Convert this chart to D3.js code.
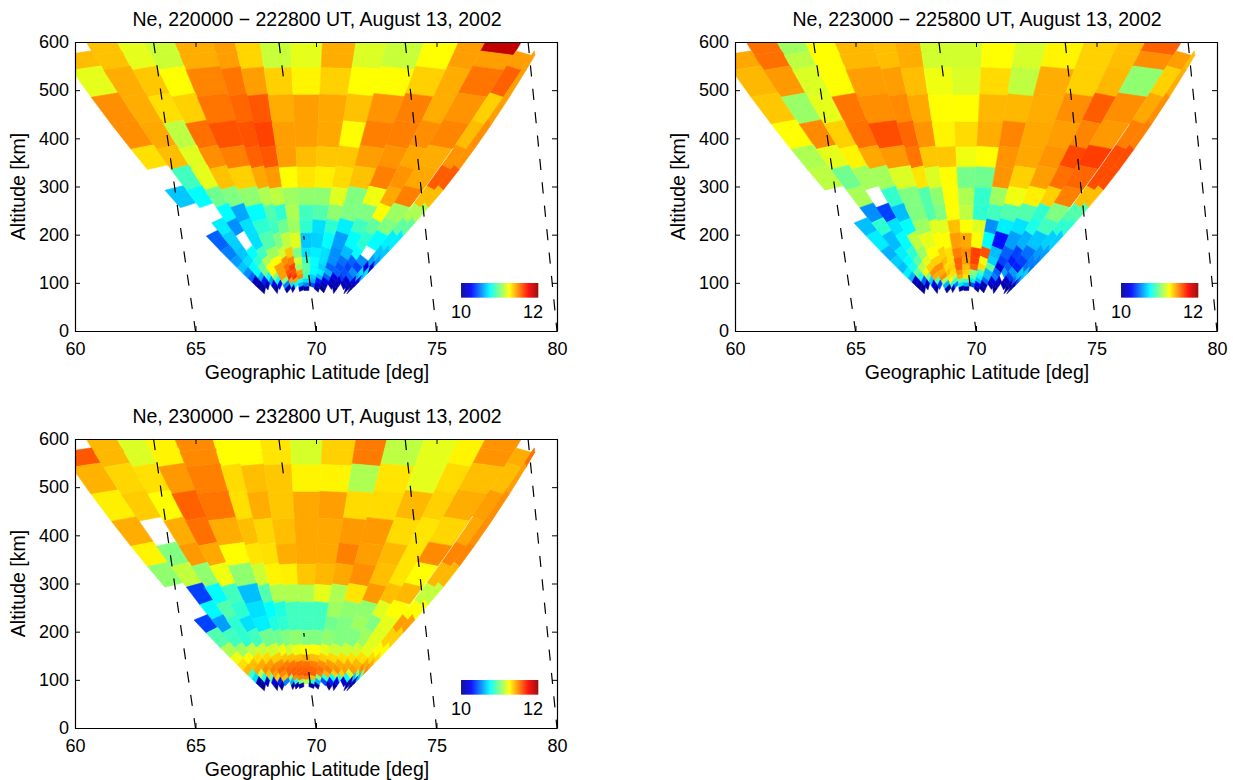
<!DOCTYPE html>
<html><head><meta charset="utf-8">
<script src="https://cdn.jsdelivr.net/npm/d3@7"></script>
<style>html,body{margin:0;padding:0;background:#fff}svg{display:block}text{font-family:"Liberation Sans",Arial,sans-serif;fill:#000}</style>
</head><body><div id="c"></div>
<script>
const _ = null;
const xTicks = [60,65,70,75,80];
const yTicks = [0,100,200,300,400,500,600];
const titles = ["Ne, 220000 \u2212 222800 UT, August 13, 2002","Ne, 223000 \u2212 225800 UT, August 13, 2002","Ne, 230000 \u2212 232800 UT, August 13, 2002"];
// altitude gate edges [km], top to bottom
const altEdges = [620,577,546,490,434,382,340,297,261,230,203,172,152,138,126,116,108,100,92,84];
// beam edge elevation [deg from southern horizon]
const beamEdges = [20.7,24.8,29.3,34.2,40.6,51.1,58.6,68.6,82.3,97.7,112.8,124.7,136,144,149,154.5,156.9,158.5];
const fieldLineBase = [65,70,75,80];
const fieldLineTop = [63.26,68.46,73.7,78.8];
const hairlineTop = [382,440,445];
// log10 Ne per gate (rows) and beam (columns)
const ne1 = [
[_,11.37,11.2,11.15,11.41,11.44,11.33,11.14,11.2,11.41,11.18,11.14,11.25,11.44,11.89,_,_],
[11.38,11.37,11.2,11.15,11.41,11.44,11.33,11.14,11.2,11.41,11.18,11.14,11.25,11.44,11.44,11.44,11.44],
[11.2,11.41,11.36,11.25,11.49,11.52,11.44,11.34,11.27,11.34,11.25,11.25,11.34,11.41,11.52,11.56,11.44],
[11.47,11.41,11.31,11.34,11.52,11.55,11.58,11.41,11.44,11.42,11.37,11.46,11.5,11.41,11.46,11.34,11.44],
[11.47,11.42,11.12,11.53,11.59,11.59,11.62,11.44,11.44,11.42,11.25,11.5,11.5,11.47,11.49,11.38,11.47],
[11.31,11.38,11.19,11.47,11.5,11.56,11.58,11.44,11.38,11.36,11.36,11.44,11.46,11.42,11.41,11.46,11.46],
[_,10.875,11.2,11.37,11.34,11.42,11.45,11.25,11.3,11.28,11.32,11.37,11.5,11.46,11.42,11.57,11.57],
[10.64,10.75,10.97,11,11.03,11.09,11.12,11.06,11.03,11.03,11.19,11,11.22,11.42,11.5,11.38,11.38],
[_,_,10.75,10.58,10.75,10.91,10.84,11.09,10.875,10.91,11.03,11,11,11.25,11.06,11.09,11.09],
[_,10.72,10.53,10.69,10.84,10.875,10.97,11.06,10.84,10.69,10.84,10.72,10.875,10.94,11,10.94,10.94],
[10.44,10.66,_,10.69,10.91,11,11.125,11.19,10.64,10.66,10.75,10.56,10.75,10.84,10.75,10.72,10.72],
[10.5,10.64,10.75,10.875,11.06,11.16,11.36,11,10.7,10.72,10.69,10.53,10.62,10.75,_,10.64,10.64],
[10.56,10.69,10.84,11.09,11.25,11.47,11.5,11.16,10.875,10.75,10.69,10.53,10.47,10.44,10.53,10.56,10.56],
[10.64,10.75,10.95,11.25,11.44,11.53,11.625,11.06,10.94,10.75,10.66,10.44,10.41,10.375,10.375,10.19,10.19],
[10.53,10.75,10.97,11.25,11.44,11.59,11.59,11.44,10.91,10.75,10.72,10.6,10.44,10.41,10.53,10.69,10.69],
[10.44,10.6,10.75,11,11.44,11.66,11.66,11.5,10.875,10.66,10.625,10.44,10.2,10.375,10.44,10.6,10.6],
[10.1,10.3,10.56,10.75,11,11.44,11.44,10.8,10.69,10.6,10.3,10.2,10.1,10.1,10.15,10.2,10.2],
[10.05,10.1,10.15,10.25,10.5,10.7,10.75,10.6,10.5,10.4,10.2,10.1,10.1,10.1,10.1,10.1,10.1],
[10.02,_,10.03,_,10.03,10.05,_,10.05,10.05,_,10.03,10.02,_,10.03,_,10.02,10.02]];
const ne2 = [
[_,11.53,11.06,11.25,11.39,11.375,11.41,11.16,11.16,11.25,11.17,11.27,11.34,11.375,11.56,_,_],
[11.42,11.53,11.12,11.25,11.39,11.375,11.41,11.16,11.16,11.25,11.17,11.27,11.34,11.375,11.47,11.44,11.38],
[11.39,11.45,11.18,11.25,11.44,11.44,11.375,11.22,11.18,11.32,11.125,11.41,11.34,11.39,11.03,11.34,11.41],
[11.36,11.05,11.2,11.52,11.47,11.48,11.42,11.25,11.25,11.39,11.39,11.41,11.47,11.57,11.47,11.42,11.47],
[11.25,11.48,11.34,11.53,11.6,11.55,11.46,11.27,11.32,11.41,11.49,11.42,11.44,11.49,11.45,11.5,11.5],
[11.09,11.2,11.27,11.42,11.45,11.52,11.36,11.36,11.22,11.25,11.46,11.42,11.46,11.61,11.63,11.6,11.6],
[11.12,10.97,11.07,11.07,11.18,11.3,11.18,11.25,10.98,10.97,11.46,11.34,11.44,11.53,11.55,11.6,11.6],
[_,11.08,_,10.85,11,10.91,11.03,11.25,11.09,10.85,11.06,11.22,11.28,11.34,11.5,11.375,11.375],
[_,10.53,10.375,10.625,11,10.91,11,11.25,11.125,10.84,10.875,10.91,10.91,10.84,11,10.91,10.91],
[10.625,10.84,10.69,10.75,11.06,11.19,11.19,11.375,11.25,11.19,10.53,10.72,10.7,10.8,10.875,10.84,10.84],
[10.72,10.62,10.75,11.125,11.2,11.25,11.25,11.44,11.42,11.25,10.75,10.28,10.56,10.6,10.64,10.66,10.66],
[10.6,10.72,10.84,11.06,11.25,11.34,11.31,11.5,11.47,11.625,11.59,10.625,10.44,10.375,10.47,10.56,10.56],
[10.66,10.75,10.94,11.19,11.34,11.375,11.31,11.56,11.44,11.625,11.25,10.66,10.375,10.31,10.375,10.5,10.5],
[10.625,10.8,11.125,11.34,11.47,11.31,11.34,11.56,11.375,11.56,11.31,10.94,10.15,10.44,10.31,10.47,10.47],
[10.72,10.94,11.22,11.47,11.41,11.375,11.31,11.47,11.34,11,10.875,10.625,10.44,10.56,10.56,10.66,10.66],
[10.6,10.8,11,11.41,11.47,11.3,11.1,11.41,11.3,10.94,10.75,10.625,10.5,_,10.375,10.62,10.62],
[10.1,10.44,10.66,10.9,11.06,11.25,10.875,10.94,10.875,10.72,10.62,10.44,10.2,10.15,10.125,10.44,10.44],
[10.05,10.1,10.2,10.35,10.6,10.8,10.5,10.7,10.6,10.4,10.25,10.1,10.1,10.08,10.05,10.1,10.1],
[10.02,_,10.03,_,10.03,10.05,_,10.05,10.05,_,10.03,10.02,_,10.03,_,10.02,10.02]];
const ne3 = [
[_,11.39,11.18,11.27,11.48,11.25,11.25,11.3,11.17,11.34,11.51,11.12,11.2,11.27,11.46,_,_],
[11.58,11.39,11.18,11.27,11.48,11.25,11.25,11.3,11.17,11.34,11.51,11.12,11.2,11.27,11.46,11.41,11.53],
[11.4,11.33,11.31,11.45,11.5,11.32,11.375,11.36,11.27,11.27,11.09,11.3,11.2,11.32,11.375,11.375,11.44],
[11.28,11.35,11.25,11.56,11.52,11.31,11.41,11.36,11.42,11.44,11.32,11.32,11.39,11.34,11.41,11.44,11.47],
[11.41,_,11.41,11.53,11.41,11.375,11.33,11.375,11.42,11.42,11.45,11.45,11.32,11.3,11.33,11.42,11.47],
[11.27,11,11.45,11.42,11.25,11.3,11.31,11.41,11.42,11.42,11.5,11.44,11.39,11.3,11.48,11.49,11.49],
[11.03,11.13,11.03,11.22,11.03,11.15,11.27,11.28,11.36,11.39,11.42,11.47,11.375,11.3,11.25,11.39,11.39],
[_,10.375,10.75,10.875,10.625,10.91,11.09,11.09,11.09,11.2,11.09,11.3,11.45,11.375,11.39,11.13,11.13],
[_,10.74,10.91,10.84,10.69,10.75,10.81,10.875,10.875,10.875,11.06,11.03,11.03,11.19,11.25,11.25,11.25],
[10.375,10.56,10.84,10.69,10.72,10.81,10.84,10.875,10.875,10.875,10.97,11,11.06,11,11.2,11.44,11.44],
[10.91,10.875,10.84,10.875,10.97,10.97,11,11.03,11,11,11.03,11,11,11.06,11.19,11.34,11.34],
[11.09,11.06,11.125,11.15,11.16,11.22,11.16,11.22,11.25,11.25,11.2,11.15,11.15,11.16,11.2,11.25,11.25],
[11.22,11.25,11.31,11.32,11.34,11.36,11.375,11.375,11.41,11.375,11.34,11.32,11.31,11.31,11.31,11.32,11.32],
[11.31,11.375,11.41,11.44,11.47,11.5,11.52,11.53,11.53,11.5,11.47,11.44,11.41,11.41,11.39,11.41,11.41],
[11.39,11.42,11.47,11.5,11.53,11.55,11.56,11.56,11.56,11.55,11.53,11.5,11.47,11.44,11.44,11.47,11.47],
[10.875,11.125,11.375,11.44,11.48,11.56,11.56,11.56,11.59,11.56,11.5,11.41,11.34,11.34,11.16,11,11],
[10.69,10.8,10.94,11.34,11.375,11,11.47,11.5,11.5,11.375,11,10.84,10.75,10.84,10.75,10.625,10.625],
[10.05,10.1,10.2,10.3,10.5,10.6,10.8,11,11.1,10.8,10.6,10.4,10.3,10.25,10.15,10.1,10.1],
[10.02,_,10.03,10.02,_,10.03,10.05,10.05,_,10.05,10.03,_,10.03,10.02,_,10.02,10.02]];
const panels = [
 {ne:ne1,left:75,top:42},
 {ne:ne2,left:735,top:42},
 {ne:ne3,left:75,top:439}];
const W=482,H=289;
const R=6371, lat0=69.6;
const svg=d3.select('#c').append('svg').attr('width',1233).attr('height',780);
const jet=d3.scaleLinear().domain([10,10.25,10.75,11.25,11.75,12]).range(['#000090','#0000ff','#00ffff','#ffff00','#ff0000','#900000']).clamp(true);
const FS=18, LS=19.5;
function elev(j,alt){
  let e=beamEdges[j];
  if(j===beamEdges.length-1 && alt>300) e-= (alt-300)/283*1.2;
  return e;
}
function latAt(j,alt){
  const e0=elev(j,alt), left=e0<90, e=(left?e0:180-e0)*Math.PI/180;
  const th=Math.acos(Math.cos(e)/(1+alt/R))-e;
  return lat0+(left?-1:1)*th*180/Math.PI;
}
function tilt(alt){ return alt<140?7.5:(alt>300?5:7.5-(alt-140)/160*2.5); }
panels.forEach((p,pi)=>{
  const x=d3.scaleLinear().domain([60,80]).range([0,W]);
  const y=d3.scaleLinear().domain([0,600]).range([H,0]);
  const g=svg.append('g').attr('transform',`translate(${p.left},${p.top})`);
  const cid='clip'+pi;
  g.append('clipPath').attr('id',cid).append('rect').attr('width',W).attr('height',H);
  const cells=g.append('g').attr('clip-path',`url(#${cid})`);
  p.ne.forEach((row,r)=>{
    row.forEach((v,c)=>{
      if(v===null) return;
      const mid=(beamEdges[c]+beamEdges[c+1])/2*Math.PI/180;
      const cs=Math.abs(Math.cos(mid)), sgn=mid<Math.PI/2?-1:1;
      const at=altEdges[r],ab=altEdges[r+1];
      const dt=sgn*tilt(at)*cs, db=sgn*tilt(ab)*cs;
      const pts=[[c,at+dt],[c+1,at-dt],[c+1,ab-db],[c,ab+db]].map(([j,a])=>[x(latAt(j,a)),y(a)]);
      const col=jet(v);
      cells.append('path').attr('d',d3.line()(pts)+'Z').attr('fill',col).attr('stroke',col).attr('stroke-width',0.5);
    });
  });
  // hairline between last beams
  const hl=d3.range(250,hairlineTop[pi],10).map(a=>[x(latAt(15,a)),y(a)]);
  cells.append('path').attr('d',d3.line()(hl)).attr('fill','none').attr('stroke','#fff').attr('stroke-width',0.8).attr('opacity',0.8);
  // field lines
  const fl=g.append('g').attr('clip-path',`url(#${cid})`);
  const cid2='clipb'+pi;
  const cp=g.append('clipPath').attr('id',cid2);
  cp.append('rect').attr('x',0).attr('y',y(600)).attr('width',W).attr('height',y(525)-y(600));
  cp.append('rect').attr('x',0).attr('y',y(197)).attr('width',W).attr('height',y(0)-y(197));
  fieldLineBase.forEach((b,i)=>{
    const ln=fl.append('line').attr('x1',x(fieldLineTop[i])).attr('y1',y(600)).attr('x2',x(b)).attr('y2',y(0))
      .attr('stroke','#000').attr('stroke-width',1.2).attr('stroke-dasharray','11.2 12.3');
    if(b===70) ln.attr('clip-path',`url(#${cid2})`);
  });
  // axes
  const styleAxis=s=>{s.selectAll('path.domain').attr('stroke','#000').attr('stroke-width',1.2);s.selectAll('line').attr('stroke','#000').attr('stroke-width',1);s.selectAll('text').attr('font-size',FS).attr('font-family','"Liberation Sans",Arial,sans-serif');};
  g.append('g').attr('transform',`translate(0,${H})`).call(d3.axisBottom(x).tickValues(xTicks).tickSizeInner(-5).tickSizeOuter(0).tickPadding(11)).call(styleAxis);
  g.append('g').call(d3.axisLeft(y).tickValues(yTicks).tickSizeInner(-5).tickSizeOuter(0).tickPadding(6)).call(styleAxis);
  g.append('g').call(d3.axisTop(x).tickValues(xTicks).tickSizeInner(-5).tickSizeOuter(0).tickFormat('')).call(styleAxis);
  g.append('g').attr('transform',`translate(${W},0)`).call(d3.axisRight(y).tickValues(yTicks).tickSizeInner(-5).tickSizeOuter(0).tickFormat('')).call(styleAxis);
  // labels
  g.append('text').attr('x',W/2+1).attr('y',-16).attr('text-anchor','middle').attr('font-size',LS).text(titles[pi]);
  g.append('text').attr('x',W/2+1).attr('y',336.5).attr('text-anchor','middle').attr('font-size',LS).text('Geographic Latitude [deg]');
  g.append('text').attr('transform',`translate(-50,${H/2}) rotate(-90)`).attr('text-anchor','middle').attr('font-size',LS).text('Altitude [km]');
  // colour bar
  const cb=d3.scaleLinear().domain([10,12]).range([386,463]);
  const cbTop=241,cbH=14.5;
  const cbG=g.append('g');
  const step=2/154;
  d3.range(10,12,step).forEach(v=>{
    cbG.append('rect').attr('x',cb(v)).attr('y',cbTop).attr('width',cb(10+step)-cb(10)+0.3).attr('height',cbH).attr('fill',jet(v));
  });
  g.append('text').attr('x',cb(10)).attr('y',276).attr('text-anchor','middle').attr('font-size',FS).text('10');
  g.append('text').attr('x',cb(12)+5).attr('y',276).attr('text-anchor','end').attr('font-size',FS).text('12');
});
</script></body></html>
